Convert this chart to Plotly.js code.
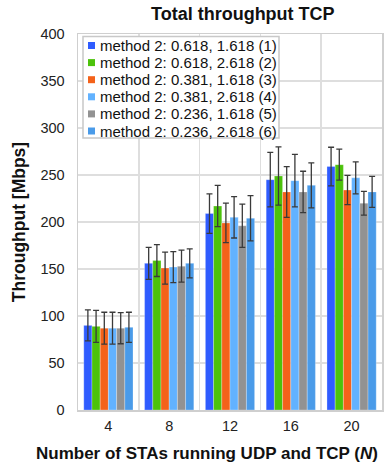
<!DOCTYPE html>
<html>
<head>
<meta charset="utf-8">
<script src="https://cdn.plot.ly/plotly-3.0.1.min.js"></script>
<style>
  html, body { margin: 0; padding: 0; background: #fff; }
  #chart { width: 391px; height: 471px; }
</style>
</head>
<body>
<div id="chart"></div>
<script>
'use strict';

const categories = ['4', '8', '12', '16', '20'];

const seriesNames = [
  'method 2: 0.618, 1.618 (1)',
  'method 2: 0.618, 2.618 (2)',
  'method 2: 0.381, 1.618 (3)',
  'method 2: 0.381, 2.618 (4)',
  'method 2: 0.236, 1.618 (5)',
  'method 2: 0.236, 2.618 (6)'
];

const colors = ['#2f5cff', '#4cc20b', '#f4621a', '#62b2ff', '#929292', '#4a9be9'];

const s1 = [90, 156, 209, 245, 259];
const s2 = [89, 159, 217, 249, 261];
const s3 = [87, 151, 199, 232, 234];
const s4 = [87, 152, 205, 244, 247];
const s5 = [87, 153, 196, 232, 220];
const s6 = [88, 156, 204, 239, 232];

const e1 = [16.5, 17, 21, 29, 20.5];
const e2 = [17, 17, 22, 31, 16.5];
const e3 = [17, 17, 21, 27, 15.6];
const e4 = [17, 16.5, 22, 28, 17];
const e5 = [16.5, 17, 23, 22, 12.6];
const e6 = [16, 15.5, 24, 24, 16.5];

const values = [s1, s2, s3, s4, s5, s6];
const errors = [e1, e2, e3, e4, e5, e6];

// plot area in pixels, used to place the hand-made legend
const W = 391, H = 471;
const M = { t: 34, l: 78, r: 9, b: 61 };
const plotW = W - M.l - M.r;
const plotH = H - M.t - M.b;
const px = x => (x - M.l) / plotW;
const py = y => (H - M.b - y) / plotH;

const data = values.map((v, i) => ({
  x: categories,
  y: v,
  type: 'bar',
  name: seriesNames[i],
  marker: {
    color: colors[i],
    line: { color: 'rgba(255,255,255,0.45)', width: 0.6 }
  },
  error_y: {
    type: 'data',
    array: errors[i],
    visible: true,
    color: '#3a3a3a',
    thickness: 1.3,
    width: 3
  }
}));

// legend: box, colour squares, labels
const shapes = [{
  type: 'rect', xref: 'paper', yref: 'paper',
  x0: px(83), x1: px(279), y0: py(138), y1: py(36.5),
  fillcolor: '#ffffff',
  line: { color: '#c8c8c8', width: 1.5 }
}];
const annotations = [];
seriesNames.forEach((name, i) => {
  const cy = 45.5 + 17.1 * i;
  shapes.push({
    type: 'rect', xref: 'paper', yref: 'paper',
    xsizemode: 'pixel', ysizemode: 'pixel',
    xanchor: px(91.5), yanchor: py(cy),
    x0: -3.5, x1: 3.5, y0: -3.5, y1: 3.5,
    fillcolor: colors[i],
    line: { width: 0 }
  });
  annotations.push({
    text: name, xref: 'paper', yref: 'paper',
    x: px(97.5), y: py(cy),
    xanchor: 'left', yanchor: 'middle',
    showarrow: false,
    font: { size: 15, color: '#111' }
  });
});

annotations.push({
  text: '<b>Number of STAs running UDP and TCP (<i>N</i>)</b>',
  xref: 'paper', yref: 'paper',
  x: px(207), y: py(453),
  xanchor: 'center', yanchor: 'middle',
  showarrow: false,
  font: { size: 17, color: '#111' }
});

const layout = {
  width: W,
  height: H,
  margin: M,
  paper_bgcolor: '#ffffff',
  plot_bgcolor: '#ffffff',
  font: { family: 'Arial, Liberation Sans, sans-serif', size: 14, color: '#222' },
  barmode: 'group',
  bargap: 0.19,
  bargroupgap: 0,
  showlegend: false,
  title: {
    text: '<b>Total throughput TCP</b>',
    font: { size: 18, color: '#111' },
    x: 0.621,
    xanchor: 'center',
    y: 1 - 14 / H,
    yanchor: 'middle'
  },
  xaxis: {
    type: 'category',
    tickson: 'boundaries',
    showgrid: true,
    gridcolor: '#dedede',
    gridwidth: 1.5,
    showline: true,
    linecolor: '#cfcfcf',
    linewidth: 1.5,
    mirror: true,
    ticks: '',
    ticklabelstandoff: 2,
    tickfont: { size: 14.5, color: '#222' }
  },
  yaxis: {
    range: [0, 400],
    dtick: 50,
    showgrid: true,
    gridcolor: '#dedede',
    gridwidth: 1.5,
    zeroline: false,
    showline: true,
    linecolor: '#cfcfcf',
    linewidth: 1.5,
    mirror: true,
    ticks: '',
    ticklabelstandoff: 9,
    tickfont: { size: 14.5, color: '#222' },
    title: {
      text: '<b>Throughput [Mbps]</b>',
      font: { size: 17.5, color: '#111' },
      standoff: 10
    }
  },
  shapes: shapes,
  annotations: annotations
};

Plotly.newPlot('chart', data, layout, { displayModeBar: false, staticPlot: true });
</script>
</body>
</html>
